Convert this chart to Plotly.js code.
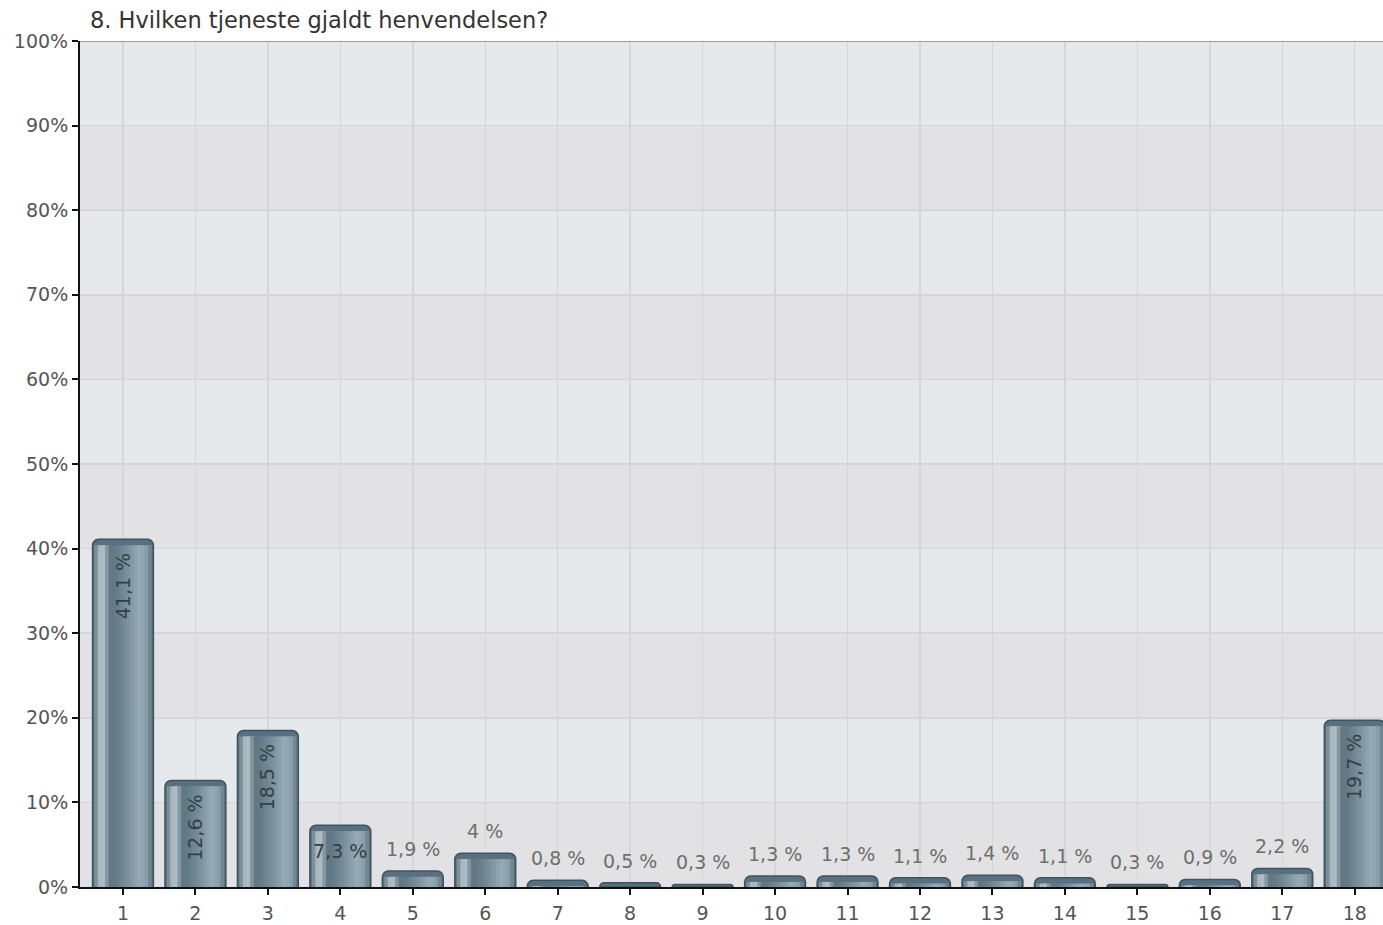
<!DOCTYPE html>
<html>
<head>
<meta charset="utf-8">
<script src="https://cdn.plot.ly/plotly-3.0.1.min.js"></script>
<style>
  html, body { margin: 0; padding: 0; background: #fff; }
  #chart { width: 1383px; height: 925px; }
</style>
</head>
<body>
<div id="chart"></div>
<script>
// answer options 1..18 and their share in percent
const categories = [1, 2, 3, 4, 5, 6, 7, 8, 9, 10, 11, 12, 13, 14, 15, 16, 17, 18];
const shares = [41.1, 12.6, 18.5, 7.3, 1.9, 4, 0.8, 0.5, 0.3, 1.3, 1.3, 1.1, 1.4, 1.1, 0.3, 0.9, 2.2, 19.7];
const yTicks = [0, 10, 20, 30, 40, 50, 60, 70, 80, 90, 100];

const TITLE = "8. Hvilken tjeneste gjaldt henvendelsen?";
const FONT = "DejaVu Sans, Verdana, sans-serif";
const BAND_LIGHT = "#e5e9ec";
const BAND_DARK = "#e2e2e5";
const GRID = "#d5d6d8";

const fmt = (v) => String(v).replace(".", ",") + " %";

// cylinder shading: colour stops across the bar width
const BAR_W = 0.84;
const STOPS = [
  [0.00, "#566c77"],
  [0.08, "#8a9ea8"],
  [0.15, "#c3ced3"],
  [0.21, "#92a4ad"],
  [0.30, "#5f7682"],
  [0.45, "#6b828e"],
  [0.62, "#8097a3"],
  [0.78, "#97acb7"],
  [0.90, "#879ca7"],
  [1.00, "#536973"],
];
function hex(c) { return [1, 3, 5].map((i) => parseInt(c.slice(i, i + 2), 16)); }
function shade(t) {
  for (let k = 1; k < STOPS.length; k++) {
    const [t1, c1] = STOPS[k];
    const [t0, c0] = STOPS[k - 1];
    if (t <= t1) {
      const f = (t - t0) / (t1 - t0);
      const a = hex(c0), b = hex(c1);
      return "rgb(" + a.map((v, j) => Math.round(v + (b[j] - v) * f)).join(",") + ")";
    }
  }
  return STOPS[STOPS.length - 1][1];
}

const traces = [{
  type: "bar",
  x: categories,
  y: shares,
  width: BAR_W,
  offset: -BAR_W / 2,
  marker: { color: "#587080", line: { color: "#40545d", width: 1.5 }, cornerradius: 6 },
  hoverinfo: "skip",
}];
// strips overlap their right neighbour so no seams show
const N = 16;
const inner0 = 0.03, inner1 = 0.97;
const step = (inner1 - inner0) / N;
for (let k = 0; k < N; k++) {
  const f0 = inner0 + step * k;
  const w = k === N - 1 ? step : step * 1.8;
  traces.push({
    type: "bar",
    x: categories,
    y: shares.map((v) => Math.max(v - 0.7, 0)),
    width: BAR_W * w,
    offset: -BAR_W / 2 + BAR_W * f0,
    marker: { color: shade(f0 + step / 2), line: { width: 0 } },
    hoverinfo: "skip",
  });
}

const annotations = categories.map((c, i) => {
  const v = shares[i];
  const base = { x: c, xref: "x", y: v, yref: "y", text: fmt(v), showarrow: false,
    font: { family: FONT, size: 19, color: "#6e6e6e" } };
  if (v >= 10) {
    return { ...base, textangle: -90, yanchor: "top", yshift: -12,
      font: { ...base.font, color: "#353f44" } };
  }
  if (v >= 5) {
    return { ...base, yanchor: "top", yshift: -13, font: { ...base.font, color: "#353f44" } };
  }
  return { ...base, yanchor: "bottom", yshift: 9 };
});

// alternating horizontal bands
const shapes = [];
for (let t = 10; t < 100; t += 20) {
  shapes.push({ type: "rect", xref: "paper", x0: 0, x1: 1, yref: "y", y0: t, y1: t + 10,
    fillcolor: BAND_LIGHT, line: { width: 0 }, layer: "below" });
}
shapes.push({ type: "line", xref: "paper", x0: 0, x1: 1, yref: "y", y0: 100, y1: 100,
  line: { color: "#9a9a9a", width: 2 } });

const layout = {
  width: 1383,
  height: 925,
  paper_bgcolor: "#ffffff",
  plot_bgcolor: BAND_DARK,
  margin: { l: 80, r: 0, t: 41, b: 38 },
  barmode: "overlay",
  showlegend: false,
  font: { family: FONT, size: 19, color: "#555555" },
  title: {
    text: TITLE,
    xref: "container", x: 90 / 1383, xanchor: "left",
    yref: "container", y: 1 - 20 / 925, yanchor: "middle",
    font: { family: FONT, size: 22.5, color: "#333333" },
  },
  xaxis: {
    range: [0.407, 18.39],
    tickmode: "array",
    tickvals: categories,
    ticktext: categories.map(String),
    ticks: "outside", ticklen: 6, tickwidth: 2, tickcolor: "#111",
    ticklabelstandoff: 2,
    showline: true, linecolor: "#111", linewidth: 2,
    showgrid: true, gridcolor: GRID, gridwidth: 1.5,
    zeroline: false,
    tickfont: { family: FONT, size: 19, color: "#555" },
  },
  yaxis: {
    range: [0, 100],
    tickmode: "array",
    tickvals: yTicks,
    ticktext: yTicks.map((t) => t + "%"),
    ticks: "outside", ticklen: 6, tickwidth: 2, tickcolor: "#111",
    showline: true, linecolor: "#111", linewidth: 2,
    showgrid: true, gridcolor: GRID, gridwidth: 1.5,
    zeroline: false,
    tickfont: { family: FONT, size: 19, color: "#555" },
  },
  shapes,
  annotations,
};

Plotly.newPlot("chart", traces, layout, { displayModeBar: false, staticPlot: true });
</script>
</body>
</html>
